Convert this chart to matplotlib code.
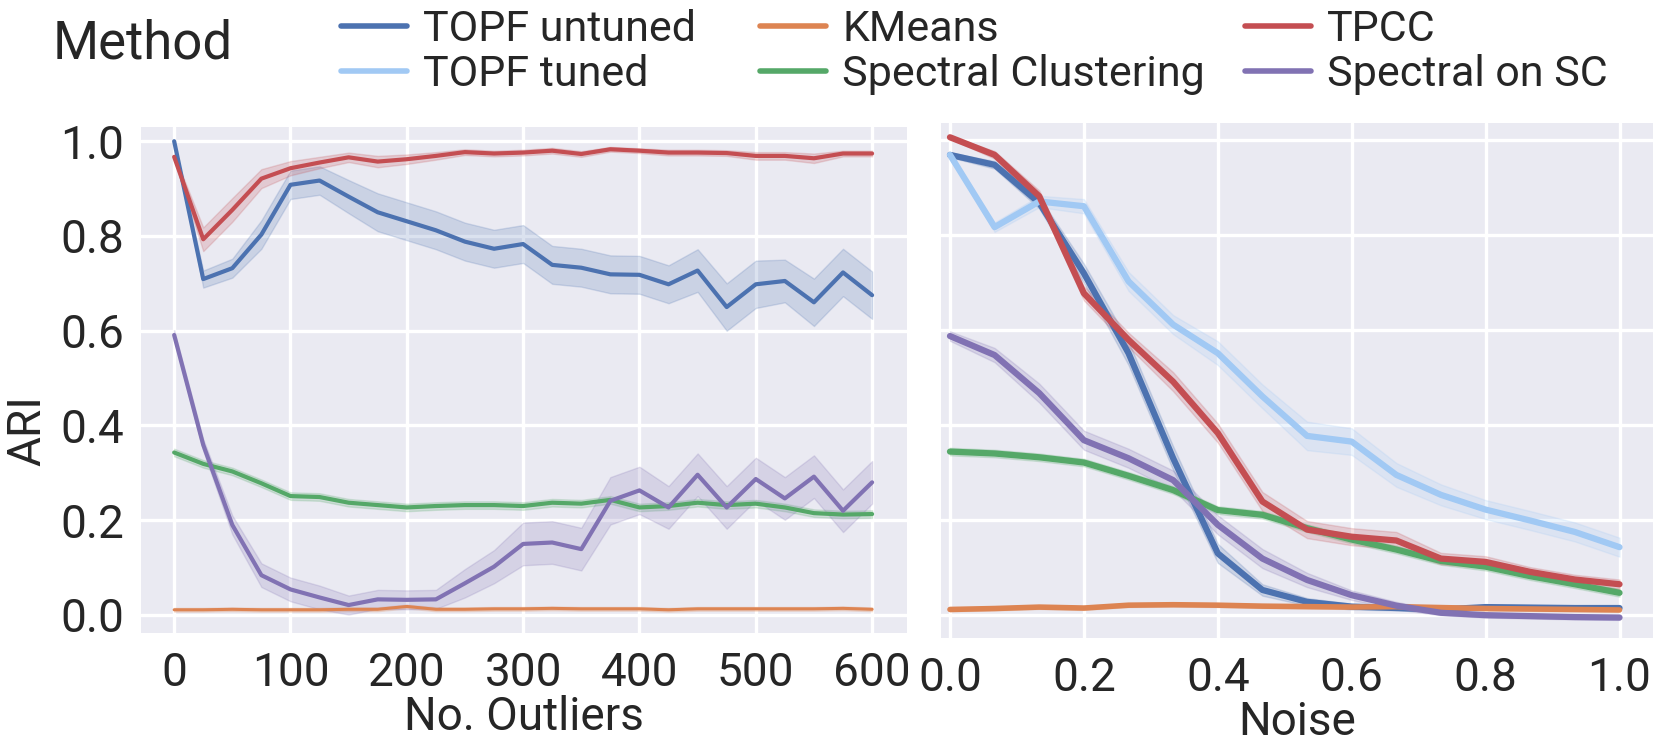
import numpy as np
import matplotlib.pyplot as plt
import seaborn as sns
from matplotlib.lines import Line2D

sns.set_theme(style="darkgrid")
plt.rcParams['font.family'] = ['Roboto', 'DejaVu Sans']

# --- colours (seaborn deep / pastel) ---
c_untuned = '#4C72B0'
c_tuned = '#A1C9F4'
c_kmeans = '#DD8452'
c_spec = '#55A868'
c_tpcc = '#C44E52'
c_specsc = '#8172B3'

# --- left panel: number of outliers ---
outliers = list(range(0, 601, 25))

untuned_out = [1.0, 0.709, 0.732, 0.803, 0.908, 0.917, 0.883, 0.850, 0.831, 0.812, 0.788,
               0.773, 0.783, 0.739, 0.733, 0.719, 0.718, 0.698, 0.727, 0.650, 0.698, 0.705,
               0.660, 0.723, 0.675]
untuned_out_err = [0.0, 0.018, 0.02, 0.03, 0.03, 0.03, 0.035, 0.04, 0.04, 0.04, 0.04, 0.04,
                   0.04, 0.04, 0.04, 0.04, 0.04, 0.04, 0.045, 0.05, 0.05, 0.045, 0.05, 0.05, 0.05]

kmeans_out = [0.011, 0.011, 0.012, 0.011, 0.011, 0.011, 0.012, 0.012, 0.018, 0.012, 0.012,
              0.013, 0.013, 0.014, 0.013, 0.013, 0.013, 0.011, 0.013, 0.013, 0.013, 0.013,
              0.013, 0.014, 0.012]
kmeans_out_err = [0.004] * 25

spec_out = [0.343, 0.319, 0.303, 0.278, 0.251, 0.249, 0.237, 0.232, 0.227, 0.230, 0.232,
            0.232, 0.230, 0.237, 0.235, 0.243, 0.227, 0.230, 0.237, 0.232, 0.235, 0.227,
            0.215, 0.212, 0.213]
spec_out_err = [0.008] * 25

tpcc_out = [0.967, 0.793, 0.855, 0.921, 0.943, 0.955, 0.966, 0.957, 0.962, 0.969, 0.977,
            0.974, 0.976, 0.980, 0.973, 0.983, 0.980, 0.976, 0.976, 0.975, 0.969, 0.969,
            0.964, 0.974, 0.974]
tpcc_out_err = [0.005, 0.025, 0.025, 0.02, 0.015, 0.012, 0.01, 0.012, 0.01, 0.008, 0.006,
                0.006, 0.006, 0.006, 0.006, 0.005, 0.005, 0.006, 0.006, 0.006, 0.008, 0.008,
                0.01, 0.006, 0.006]

specsc_out = [0.591, 0.359, 0.190, 0.084, 0.054, 0.037, 0.021, 0.033, 0.032, 0.033, 0.067,
              0.102, 0.150, 0.153, 0.139, 0.241, 0.263, 0.227, 0.296, 0.227, 0.287, 0.246,
              0.292, 0.220, 0.280]
specsc_out_err = [0.01, 0.012, 0.02, 0.025, 0.025, 0.025, 0.02, 0.02, 0.02, 0.02, 0.03,
                  0.035, 0.045, 0.045, 0.045, 0.05, 0.05, 0.045, 0.045, 0.045, 0.045, 0.045,
                  0.045, 0.045, 0.045]

# --- right panel: noise ---
noise = list(np.arange(16) / 15)

untuned_noise = [0.968, 0.947, 0.867, 0.719, 0.551, 0.330, 0.130, 0.053, 0.028, 0.018,
                 0.015, 0.012, 0.017, 0.016, 0.015, 0.015]
untuned_noise_err = [0.005, 0.008, 0.012, 0.02, 0.025, 0.025, 0.02, 0.012, 0.008, 0.006,
                     0.005, 0.005, 0.005, 0.005, 0.005, 0.005]

tuned_noise = [0.968, 0.816, 0.870, 0.860, 0.702, 0.611, 0.551, 0.460, 0.377, 0.365, 0.295,
               0.253, 0.222, 0.199, 0.175, 0.143]
tuned_noise_err = [0.005, 0.01, 0.012, 0.015, 0.02, 0.02, 0.025, 0.025, 0.03, 0.028, 0.025,
                   0.022, 0.02, 0.02, 0.02, 0.02]

kmeans_noise = [0.012, 0.014, 0.017, 0.015, 0.021, 0.022, 0.021, 0.019, 0.018, 0.017, 0.018,
                0.016, 0.014, 0.013, 0.012, 0.011]
kmeans_noise_err = [0.004] * 16

spec_noise = [0.344, 0.340, 0.332, 0.321, 0.293, 0.263, 0.221, 0.211, 0.183, 0.159, 0.138,
              0.114, 0.102, 0.082, 0.065, 0.047]
spec_noise_err = [0.008] * 16

tpcc_noise = [1.005, 0.968, 0.881, 0.677, 0.579, 0.491, 0.383, 0.239, 0.180, 0.165, 0.157,
              0.119, 0.112, 0.091, 0.075, 0.065]
tpcc_noise_err = [0.003, 0.008, 0.012, 0.015, 0.015, 0.02, 0.02, 0.02, 0.018, 0.018, 0.018,
                  0.012, 0.012, 0.01, 0.01, 0.01]

specsc_noise = [0.587, 0.547, 0.467, 0.368, 0.330, 0.284, 0.190, 0.119, 0.074, 0.042, 0.020,
                0.005, 0.0, -0.002, -0.004, -0.005]
specsc_noise_err = [0.01, 0.015, 0.02, 0.02, 0.02, 0.02, 0.02, 0.02, 0.015, 0.01, 0.008,
                    0.005, 0.005, 0.005, 0.005, 0.005]

W, H = 1661, 743
fig = plt.figure(figsize=(W / 100, H / 100), dpi=100)
# pixel boxes: left 141..907 x 127..633, right 941..1653 x 123..638
ax1 = fig.add_axes([141 / W, (H - 633) / H, 766 / W, 506 / H])
ax2 = fig.add_axes([941 / W, (H - 638) / H, 712 / W, 515 / H])


def band(ax, x, y, e, color, lw):
    y = np.array(y)
    e = np.array(e)
    ax.fill_between(x, y - e, y + e, color=color, alpha=0.2)
    ax.plot(x, y, color=color, lw=lw)


band(ax1, outliers, untuned_out, untuned_out_err, c_untuned, 3)
band(ax1, outliers, kmeans_out, kmeans_out_err, c_kmeans, 2.2)
band(ax1, outliers, spec_out, spec_out_err, c_spec, 3)
band(ax1, outliers, tpcc_out, tpcc_out_err, c_tpcc, 3)
band(ax1, outliers, specsc_out, specsc_out_err, c_specsc, 3)

band(ax2, noise, untuned_noise, untuned_noise_err, c_untuned, 4.5)
band(ax2, noise, tuned_noise, tuned_noise_err, c_tuned, 4.5)
band(ax2, noise, kmeans_noise, kmeans_noise_err, c_kmeans, 4)
band(ax2, noise, spec_noise, spec_noise_err, c_spec, 4.5)
band(ax2, noise, tpcc_noise, tpcc_noise_err, c_tpcc, 4.5)
band(ax2, noise, specsc_noise, specsc_noise_err, c_specsc, 4.5)

ax1.set_xlim(-28.5, 630)
ax1.set_ylim(-0.038, 1.03)
ax2.set_xlim(-0.0134, 1.05)
ax2.set_ylim(-0.048, 1.035)

ticks_y = [0.0, 0.2, 0.4, 0.6, 0.8, 1.0]
ax1.set_yticks(ticks_y)
ax1.set_yticklabels([f'{t:.1f}' for t in ticks_y])
ax2.set_yticks(ticks_y)
ax2.set_yticklabels([])
ax1.set_xticks([0, 100, 200, 300, 400, 500, 600])
ticks_noise = [0.0, 0.2, 0.4, 0.6, 0.8, 1.0]
ax2.set_xticks(ticks_noise)
ax2.set_xticklabels([f'{t:.1f}' for t in ticks_noise])

for ax in (ax1, ax2):
    ax.set_facecolor('#EAEAF2')
    ax.grid(True, color='white', lw=2.4)
    ax.tick_params(axis='both', labelsize=33, length=0, labelcolor='#262626')
    ax.tick_params(axis='x', pad=13)
    ax.tick_params(axis='y', pad=12)
    for s in ax.spines.values():
        s.set_visible(False)

ax1.set_xlabel('No. Outliers', fontsize=33, labelpad=0, color='#262626')
ax2.set_xlabel('Noise', fontsize=33, labelpad=0, color='#262626')
ax1.set_ylabel('ARI', fontsize=33, color='#262626')
ax1.yaxis.set_label_coords(-0.12, 0.40)

# --- legend: title on the left, three columns of entries ---
fig.text(53 / W, 1 - 44 / H, 'Method', fontsize=38, va='center', ha='left', color='#262626')
cols = [
    (341, [('TOPF untuned', c_untuned), ('TOPF tuned', c_tuned)]),
    (760, [('KMeans', c_kmeans), ('Spectral Clustering', c_spec)]),
    (1245, [('TPCC', c_tpcc), ('Spectral on SC', c_specsc)]),
]
fs = 31
for xpix, entries in cols:
    handles = [Line2D([], [], color=c, lw=4, solid_capstyle='round') for _, c in entries]
    labels = [l for l, _ in entries]
    fig.legend(handles, labels, loc='center left', bbox_to_anchor=(xpix / W, 1 - 52 / H),
               frameon=False, fontsize=fs, borderpad=0, borderaxespad=0,
               handlelength=66 / (fs * 100 / 72), handletextpad=16 / (fs * 100 / 72),
               labelspacing=0.1, labelcolor='#262626')

fig.savefig('out.png', dpi=100, facecolor='white')
